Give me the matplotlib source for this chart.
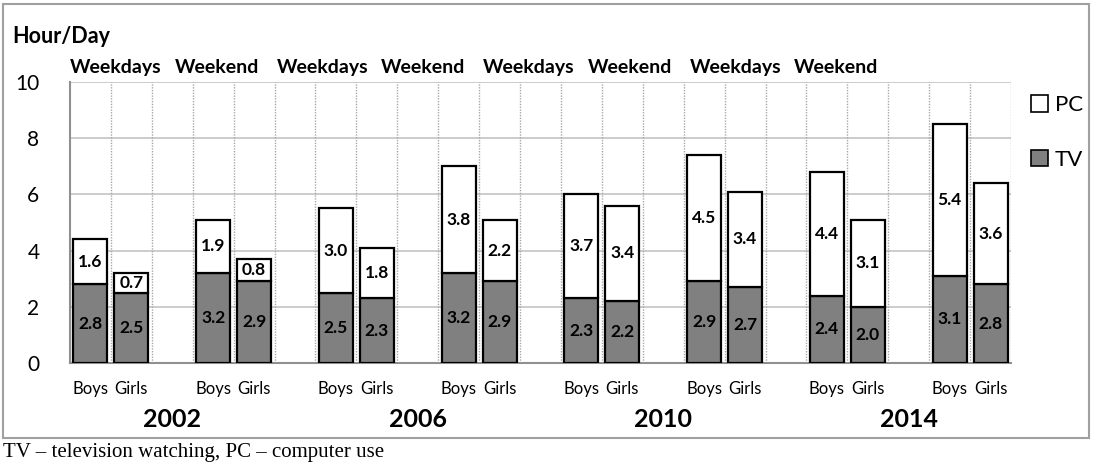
import numpy as np
import matplotlib.pyplot as plt
from matplotlib.patches import Rectangle

plt.rcParams['font.family'] = ['Lato', 'DejaVu Sans']

years = ['2002', '2006', '2010', '2014']
periods = ['Weekdays', 'Weekend']
genders = ['Boys', 'Girls']

# order: for each year -> weekdays (boys, girls), weekend (boys, girls)
tv = [2.8, 2.5, 3.2, 2.9,
      2.5, 2.3, 3.2, 2.9,
      2.3, 2.2, 2.9, 2.7,
      2.4, 2.0, 3.1, 2.8]
pc = [1.6, 0.7, 1.9, 0.8,
      3.0, 1.8, 3.8, 2.2,
      3.7, 3.4, 4.5, 3.4,
      4.4, 3.1, 5.4, 3.6]

tv = np.array(tv)
pc = np.array(pc)
n = len(tv)
# each pair takes 3 slots: boys, girls, gap
slot = np.array([3 * (i // 2) + (i % 2) for i in range(n)])
xc = slot + 0.5
w = 0.83

fig = plt.figure(figsize=(10.97, 4.65), dpi=100)
ax = fig.add_axes([0.0638, 0.2194, 0.9216 - 0.0638, 0.8237 - 0.2194])

ax.bar(xc, tv, width=w, color='#808080', edgecolor='black', linewidth=1.6, label='TV', zorder=3)
ax.bar(xc, pc, width=w, bottom=tv, color='white', edgecolor='black', linewidth=1.6, label='PC', zorder=3)

for x, t, p in zip(xc, tv, pc):
    ax.text(x, t / 2, f'{t:.1f}', ha='center', va='center', fontsize=12.5, fontweight='bold', zorder=4)
    ax.text(x, t + p / 2, f'{p:.1f}', ha='center', va='center', fontsize=12.5, fontweight='bold', zorder=4)

ax.set_xlim(0, 23)
ax.set_ylim(0, 10)
ax.set_yticks(np.arange(0, 11, 2))
ax.set_yticklabels([str(v) for v in range(0, 11, 2)], fontsize=15)
ax.tick_params(axis='y', length=0, pad=22)
ax.set_xticks(xc)
ax.set_xticklabels([genders[i % 2] for i in range(n)], fontsize=12)
ax.tick_params(axis='x', length=0, pad=13)

for v in range(2, 11, 2):
    ax.axhline(v, color='#c4c4c4', linewidth=1.2, zorder=1)
for s in range(1, 24):
    ax.axvline(s, color='#a8a8a8', linewidth=1.0, linestyle=(0, (1.0, 1.0)), zorder=1)

for sp in ['top', 'right']:
    ax.spines[sp].set_visible(False)
ax.spines['left'].set_color('#909090')
ax.spines['bottom'].set_color('#909090')
ax.spines['left'].set_linewidth(1.5)
ax.spines['bottom'].set_linewidth(1.5)

# period labels above plot
label_x = [0, 2.57, 5.06, 7.6, 10.1, 12.66, 15.16, 17.7]
for k, lx in enumerate(label_x):
    ax.text(lx, 1.052, periods[k % 2], transform=ax.get_xaxis_transform(),
            ha='left', va='center', fontsize=14, fontweight='bold')

# year labels
for k, yr in enumerate(years):
    ax.text(6 * k + 2.5, -0.2, yr, transform=ax.get_xaxis_transform(),
            ha='center', va='center', fontsize=18, fontweight='bold')

fig.text(0.011, 0.921, 'Hour/Day', fontsize=15.5, fontweight='bold', ha='left', va='center')

h_tv = Rectangle((0, 0), 1, 1, facecolor='#808080', edgecolor='black', linewidth=1.2)
h_pc = Rectangle((0, 0), 1, 1, facecolor='white', edgecolor='black', linewidth=1.2)
fig.legend([h_pc, h_tv], ['PC', 'TV'], loc='upper left', bbox_to_anchor=(0.922, 0.838),
           frameon=False, fontsize=16, handlelength=0.75, handleheight=0.75,
           handletextpad=0.3, labelspacing=1.55)

fig.patches.append(Rectangle((0.003, 0.057), 0.99, 0.935, transform=fig.transFigure,
                             fill=False, edgecolor='#a0a0a0', linewidth=1.5))
fig.text(0.003, 0.026, 'TV \u2013 television watching, PC \u2013 computer use',
         family=['Liberation Serif'], fontsize=15, ha='left', va='center')

fig.savefig('out.png', dpi=100)
